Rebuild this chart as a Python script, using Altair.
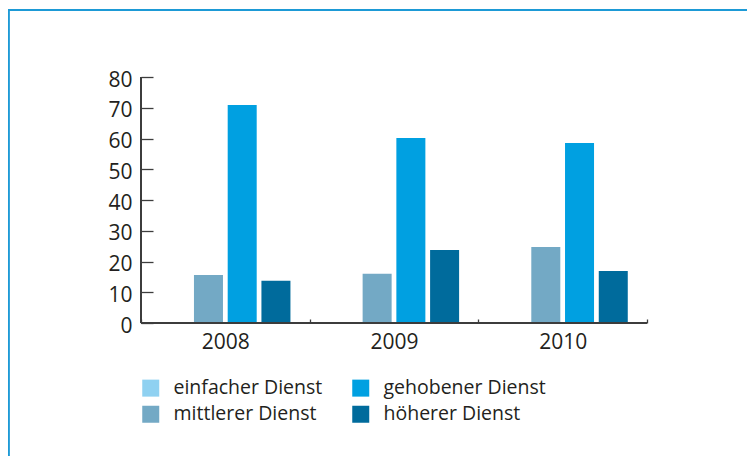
import altair as alt
import pandas as pd

years = ["2008", "2009", "2010"]
categories = ["einfacher Dienst", "mittlerer Dienst", "gehobener Dienst", "höherer Dienst"]
einfacher = [0, 0, 0]
mittlerer = [15.6, 16.0, 24.7]
gehobener = [70.9, 60.2, 58.5]
hoeherer = [13.7, 23.7, 16.9]
colors = ["#8fd1f1", "#73a9c5", "#00a0e1", "#006b9c"]
y_ticks = [0, 10, 20, 30, 40, 50, 60, 70, 80]

series = [einfacher, mittlerer, gehobener, hoeherer]
rows = []
for i, yr in enumerate(years):
    for cat, vals in zip(categories, series):
        rows.append({"Jahr": yr, "Dienst": cat, "Wert": vals[i]})
df = pd.DataFrame(rows)

W, H = 506, 246
TXT = "#231f20"
AX = "#3d3d3d"
FRAME = "#1e9ad6"

bars = alt.Chart(df).mark_bar().encode(
    x=alt.X(
        "Jahr:N", sort=years, title=None,
        scale=alt.Scale(paddingInner=0, paddingOuter=0),
        axis=alt.Axis(orient="bottom", offset=-4, tickSize=4, tickBand="extent",
                      domain=False, labelAngle=0, labelPadding=8, labelFontSize=21,
                      labelColor=TXT, tickColor=AX, tickWidth=1.3),
    ),
    xOffset=alt.XOffset("Dienst:N", sort=categories,
                        scale=alt.Scale(paddingInner=0.14, paddingOuter=0.57)),
    y=alt.Y(
        "Wert:Q", title=None,
        scale=alt.Scale(domain=[0, 80], nice=False),
        axis=alt.Axis(values=y_ticks, offset=-12, tickSize=12, domain=False, grid=False,
                      labelPadding=9, labelFontSize=21, labelColor=TXT, labelOffset=3,
                      tickColor=AX, tickWidth=1.3),
    ),
    color=alt.Color(
        "Dienst:N",
        scale=alt.Scale(domain=categories, range=colors),
        legend=alt.Legend(orient="none", legendX=0, legendY=301, columns=2, title=None,
                          symbolType="square", symbolSize=289, symbolStrokeWidth=0,
                          labelFontSize=19.5, labelColor=TXT, labelOffset=13, labelLimit=400,
                          columnPadding=28, rowPadding=5.5, padding=0),
    ),
)

ydomain = alt.Chart(df).mark_rule(color=AX, strokeWidth=1.4).encode(
    x=alt.value(0), y=alt.value(0), y2=alt.value(H))
xdomain = alt.Chart(df).mark_rule(color=AX, strokeWidth=1.4).encode(
    x=alt.value(0), x2=alt.value(W), y=alt.value(H))
frame_top = alt.Chart(df).mark_rule(color=FRAME, strokeWidth=1.3).encode(
    x=alt.value(-132.5), x2=alt.value(620), y=alt.value(-67))
frame_left = alt.Chart(df).mark_rule(color=FRAME, strokeWidth=1.3).encode(
    x=alt.value(-132.5), y=alt.value(-67), y2=alt.value(400))

chart = alt.layer(frame_top, frame_left, bars, ydomain, xdomain).properties(
    width=W, height=H,
    autosize=alt.AutoSizeParams(type="none"),
    padding={"left": 133, "top": 69, "right": 100, "bottom": 133},
).configure(font="Open Sans").configure_view(stroke=None)

chart.save("out.html", embed_options={"renderer": "svg", "actions": False})
